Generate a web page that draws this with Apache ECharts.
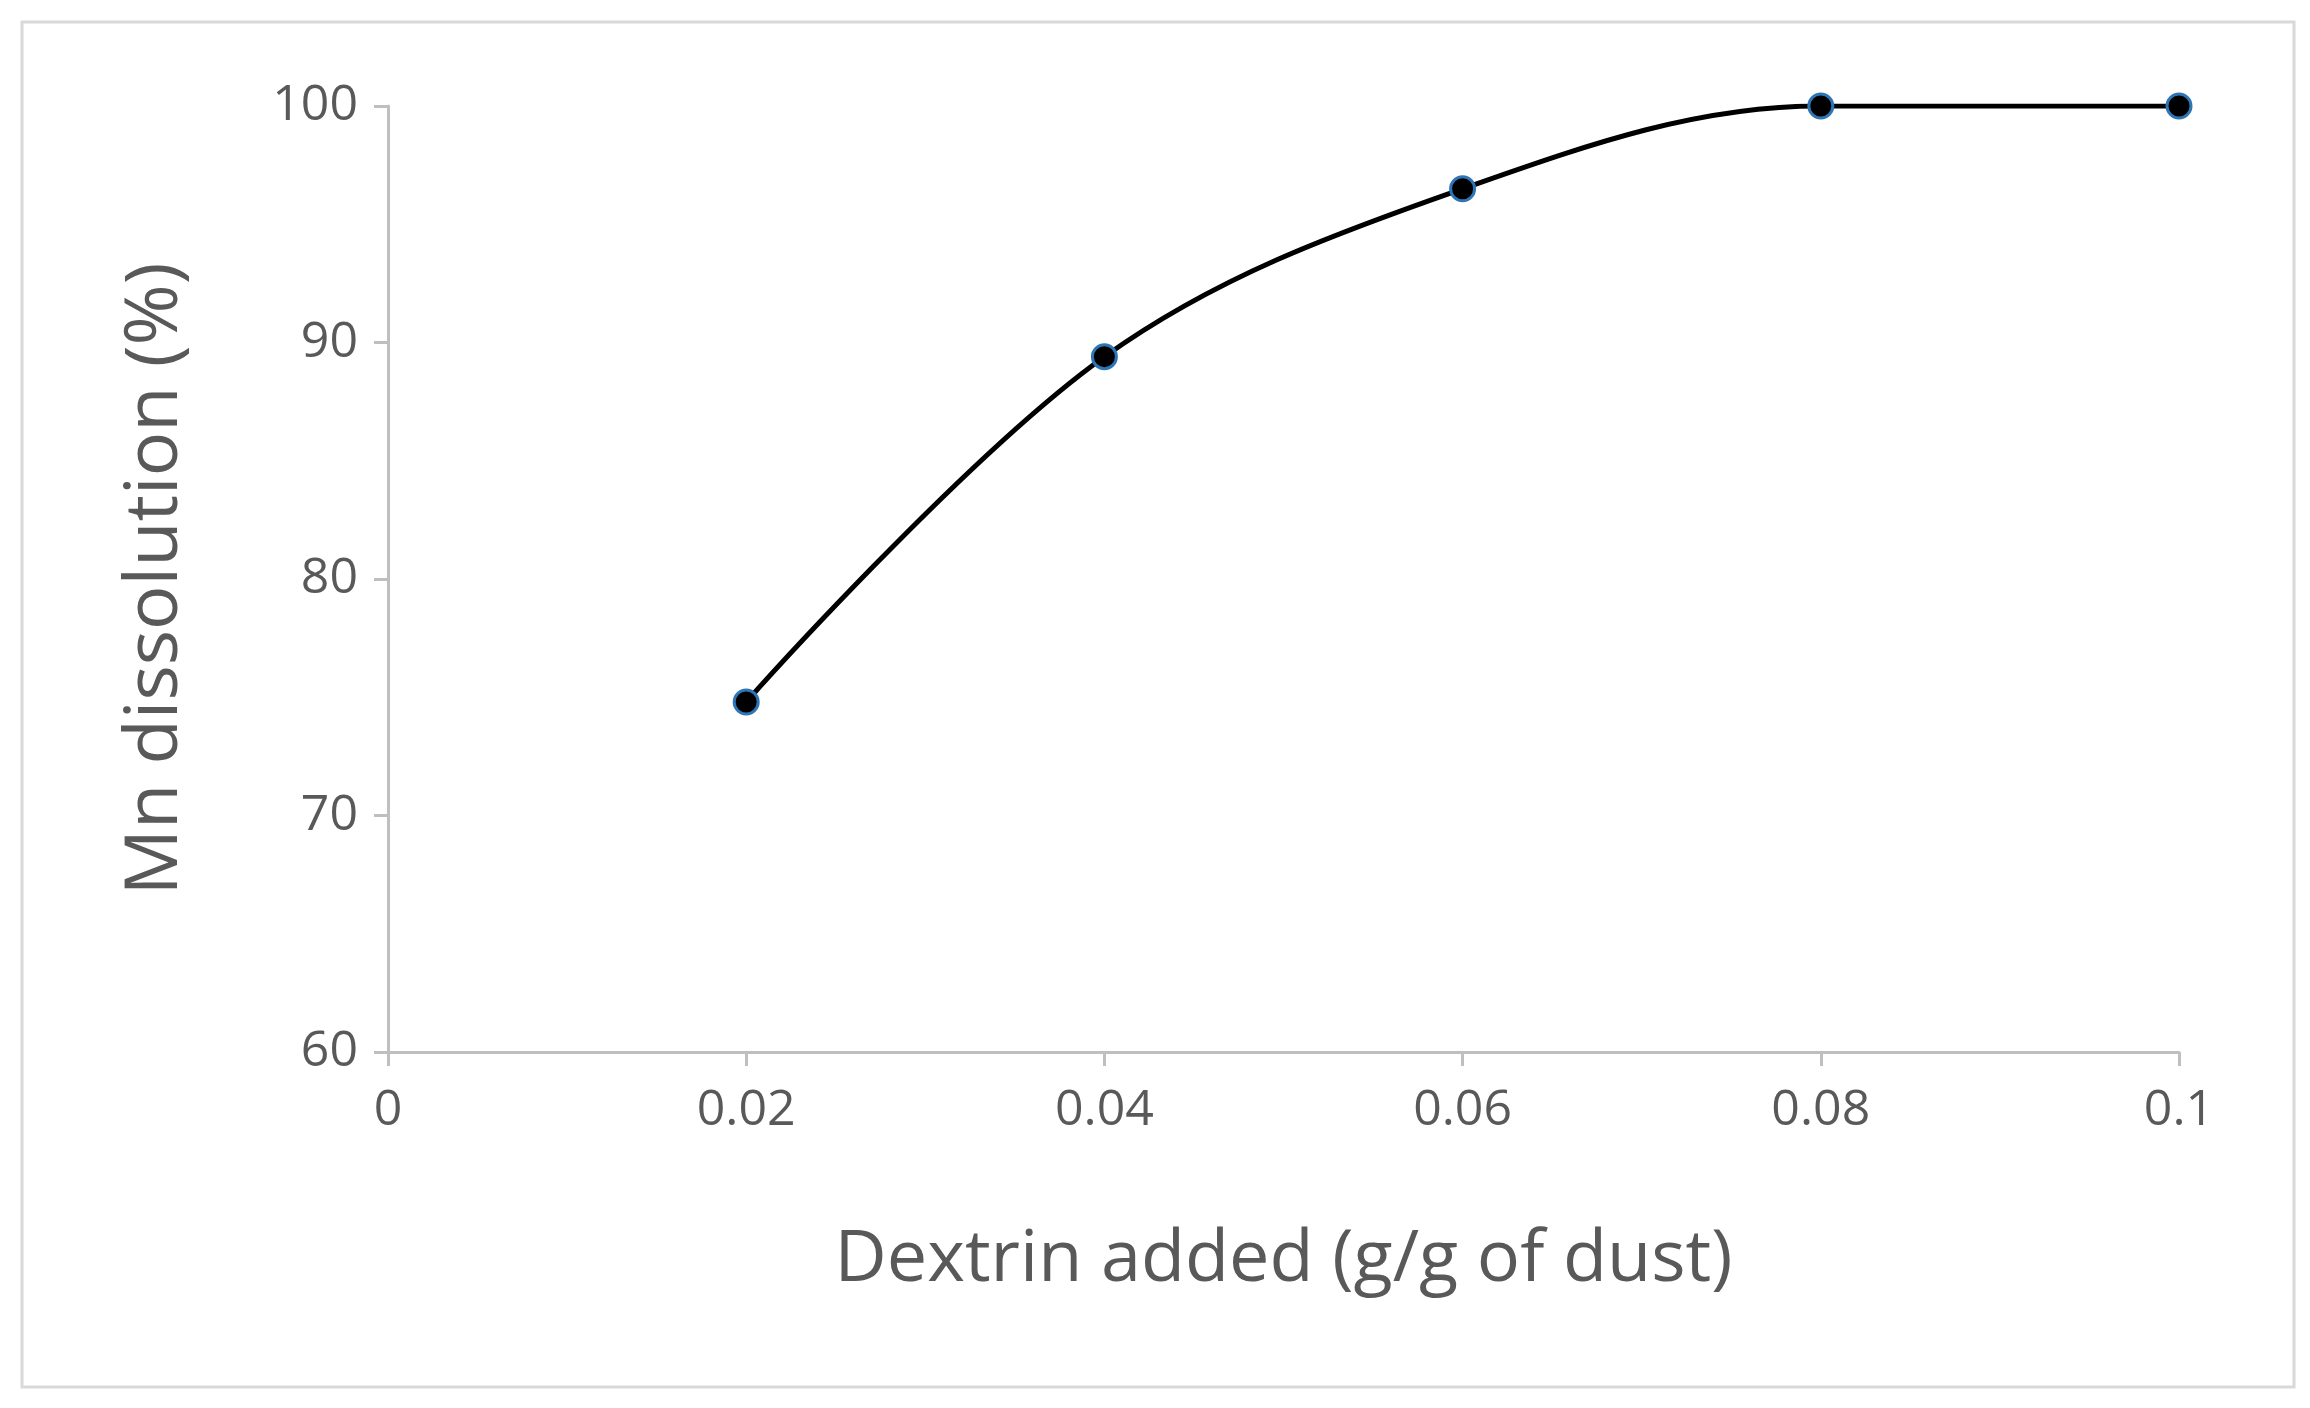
<!DOCTYPE html>
<html><head><meta charset="utf-8">
<script src="https://cdn.jsdelivr.net/npm/echarts@6/dist/echarts.min.js"></script>
<style>html,body{margin:0;background:#fff}#c{width:2310px;height:1408px}</style>
</head><body><div id="c"></div>
<script>
// dextrin dose vs Mn dissolution
const dextrin = [0.02, 0.04, 0.06, 0.08, 0.1]
const mnDissolution = [74.8, 89.4, 96.5, 100, 100]
const xTicks = [0, 0.02, 0.04, 0.06, 0.08, 0.1]

const font = 'Open Sans'
let chart = echarts.init(document.getElementById('c'))
chart.setOption({
    animation: false,
    graphic: [{
        type: 'rect', shape: { x: 22, y: 22, width: 2272, height: 1365 },
        style: { fill: 'none', stroke: '#d9d9d9', lineWidth: 3 }
    }],
    grid: { left: 388, right: 131, top: 106, bottom: 356 },
    xAxis: {
        type: 'value', min: 0, max: 0.1, interval: 0.02,
        name: 'Dextrin added (g/g of dust)', nameLocation: 'middle', nameGap: 208,
        nameTextStyle: { fontFamily: font, fontSize: 72, color: '#595959', verticalAlign: 'middle' },
        axisLine: { lineStyle: { color: '#bfbfbf', width: 3 } },
        axisTick: { show: true, length: 14, lineStyle: { color: '#bfbfbf', width: 3 } },
        axisLabel: {
            fontFamily: font, fontSize: 50, color: '#595959', margin: 34,
            formatter: v => xTicks.includes(+v.toFixed(2)) ? String(+v.toFixed(2)) : ''
        },
        splitLine: { show: false }
    },
    yAxis: {
        type: 'value', min: 60, max: 100, interval: 10,
        name: 'Mn dissolution (%)', nameLocation: 'middle', nameGap: 232, nameRotate: 90,
        nameTextStyle: { fontFamily: font, fontSize: 74, color: '#595959', verticalAlign: 'middle' },
        axisLine: { show: true, lineStyle: { color: '#bfbfbf', width: 3 } },
        axisTick: { show: true, length: 14, lineStyle: { color: '#bfbfbf', width: 3 } },
        axisLabel: { fontFamily: font, fontSize: 50, color: '#595959', margin: 30 },
        splitLine: { show: false }
    },
    series: [{
        type: 'line', smooth: 0.35,
        data: dextrin.map((x, i) => [x, mnDissolution[i]]),
        symbol: 'circle', symbolSize: 24,
        lineStyle: { color: '#000', width: 5 },
        itemStyle: { color: '#000', borderColor: '#2e75b6', borderWidth: 3 }
    }]
})
</script></body></html>
